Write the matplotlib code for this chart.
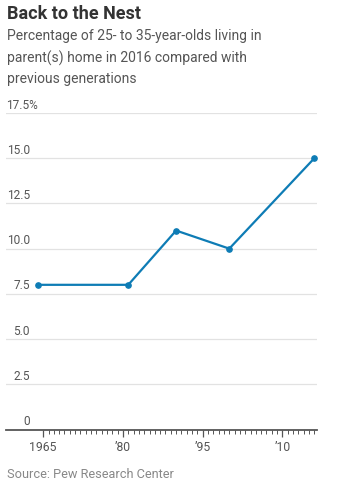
import matplotlib
matplotlib.use("Agg")
import matplotlib.pyplot as plt
from matplotlib.ticker import FixedLocator
from matplotlib.transforms import blended_transform_factory, offset_copy

plt.rcParams['font.family'] = ['Roboto', 'DejaVu Sans']

years = [1964, 1981, 1990, 2000, 2016]
values = [8.0, 8.0, 11.0, 10.0, 15.0]
y_ticks = [0, 2.5, 5.0, 7.5, 10.0, 12.5, 15.0, 17.5]
y_labels = ["0", "2.5", "5.0", "7.5", "10.0", "12.5", "15.0", "17.5%"]
x_ticks = [1965, 1980, 1995, 2010]
x_labels = ["1965", "\u201980", "\u201995", "\u201910"]

title = "Back to the Nest"
subtitle = "Percentage of 25- to 35-year-olds living in\nparent(s) home in 2016 compared with\nprevious generations"
source = "Source: Pew Research Center"

W, H = 340, 486
fig = plt.figure(figsize=(W / 100, H / 100), dpi=100)
fig.patch.set_facecolor('white')

left, right = 6 / W, 317 / W
bottom, top = 1 - 429.5 / H, 1 - 113 / H
ax = fig.add_axes([left, bottom, right - left, top - bottom])

line_color = '#0e7cb5'
ax.plot(years, values, color=line_color, lw=1.6, marker='o', ms=3.8,
        clip_on=False, zorder=3, solid_joinstyle='miter')

ax.set_xlim(1958, 2016.5)
ax.set_ylim(0, 17.5)

for y in y_ticks[1:]:
    ax.axhline(y, color='#e2e2e2', lw=0.9, zorder=1)

for s in ['top', 'right', 'left']:
    ax.spines[s].set_visible(False)
ax.spines['bottom'].set_color('#555555')
ax.spines['bottom'].set_linewidth(1.3)
ax.spines['bottom'].set_zorder(2)

ax.set_yticks([])
ax.xaxis.set_major_locator(FixedLocator(x_ticks))
ax.xaxis.set_minor_locator(FixedLocator(list(range(1965, 2017))))
ax.set_xticklabels(x_labels)
ax.tick_params(axis='x', which='major', direction='out', length=5, width=0.9,
               color='#555555', labelsize=8.8, labelcolor='#555555', pad=3)
ax.tick_params(axis='x', which='minor', direction='out', length=3, width=0.7,
               color='#555555')

trans = blended_transform_factory(fig.transFigure, ax.transData)
for y, lab in zip(y_ticks, y_labels):
    t = offset_copy(trans, fig=fig, x=0, y=1.0, units='points')
    xr = 37.7 if lab.endswith('%') else 29.8
    ax.text(xr / W, y, lab, transform=t, ha='right', va='bottom',
            fontsize=8.6, color='#555555')

fig.text(7 / W, 1 - 5 / H, title, ha='left', va='top', fontsize=13,
         fontweight='bold', color='#333333')
fig.text(7 / W, 1 - 29 / H, subtitle, ha='left', va='top', fontsize=10,
         color='#555555', linespacing=1.6)
fig.text(7 / W, 1 - 468 / H, source, ha='left', va='top', fontsize=9.2,
         color='#888888')

fig.savefig('out.png', dpi=100, facecolor='white')
